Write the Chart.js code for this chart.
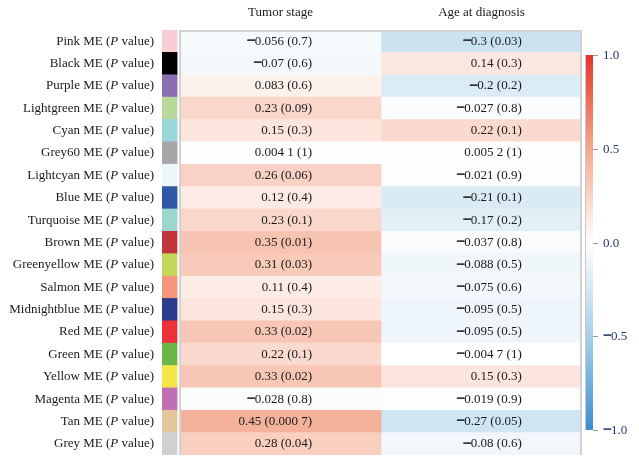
<!DOCTYPE html>
<html><head><meta charset="utf-8">
<script src="https://cdn.jsdelivr.net/npm/chart.js@4"></script>
<style>html,body{margin:0;padding:0;background:#fff}</style>
</head><body>
<canvas id="c" width="639" height="462" style="width:639px;height:462px;display:block"></canvas>
<script>
const modules = ['Pink','Black','Purple','Lightgreen','Cyan','Grey60','Lightcyan','Blue','Turquoise','Brown','Greenyellow','Salmon','Midnightblue','Red','Green','Yellow','Magenta','Tan','Grey'];
const moduleColors = ['#f8cdd3','#000000','#8b6db3','#b8d99b','#99d7d9','#a6a6a6','#edf6f8','#2f58a6','#9cd6cc','#c1353b','#c3d85a','#f5957e','#2c3a8e','#ec3139','#6bb84a','#f3e649','#c06fb4','#e4c59c','#d0d0d0'];
const columns = ['Tumor stage','Age at diagnosis'];
const tumorR = [-0.056,-0.07,0.083,0.23,0.15,0.0041,0.26,0.12,0.23,0.35,0.31,0.11,0.15,0.33,0.22,0.33,-0.028,0.45,0.28];
const tumorText = ['−0.056 (0.7)','−0.07 (0.6)','0.083 (0.6)','0.23 (0.09)','0.15 (0.3)','0.004 1 (1)','0.26 (0.06)','0.12 (0.4)','0.23 (0.1)','0.35 (0.01)','0.31 (0.03)','0.11 (0.4)','0.15 (0.3)','0.33 (0.02)','0.22 (0.1)','0.33 (0.02)','−0.028 (0.8)','0.45 (0.000 7)','0.28 (0.04)'];
const ageR = [-0.3,0.14,-0.2,-0.027,0.22,0.0052,-0.021,-0.21,-0.17,-0.037,-0.088,-0.075,-0.095,-0.095,-0.0047,0.15,-0.019,-0.27,-0.08];
const ageText = ['−0.3 (0.03)','0.14 (0.3)','−0.2 (0.2)','−0.027 (0.8)','0.22 (0.1)','0.005 2 (1)','−0.021 (0.9)','−0.21 (0.1)','−0.17 (0.2)','−0.037 (0.8)','−0.088 (0.5)','−0.075 (0.6)','−0.095 (0.5)','−0.095 (0.5)','−0.004 7 (1)','0.15 (0.3)','−0.019 (0.9)','−0.27 (0.05)','−0.08 (0.6)'];
const colorbarTicks = [-1,-0.5,0,0.5,1];
const colorbarTickLabels = ['−1.0','−0.5','0.0','0.5','1.0'];

// colour map stops (style)
const cmap = [[-1,[61,141,208]],[-0.5,[168,207,232]],[0,[255,255,255]],[0.5,[244,169,143]],[1,[228,53,42]]];
function colorFor(v){
  v=Math.max(-1,Math.min(1,v));
  for(let i=0;i<cmap.length-1;i++){
    const [a,ca]=cmap[i],[b,cb]=cmap[i+1];
    if(v>=a&&v<=b){const t=(v-a)/(b-a);
      const c=ca.map((x,k)=>Math.round(x+(cb[k]-x)*t));
      return `rgb(${c[0]},${c[1]},${c[2]})`;}
  }
  return '#fff';
}
const SERIF='"Liberation Serif","Times New Roman",serif';
const TXT='#1a1a1a';
const textRightInCell=[0.657,0.70];
const swatchRange=[-0.09,-0.015];

function drawMinus(ctx,x,yy,align){
  ctx.save();
  ctx.font='bold 15px '+SERIF; ctx.textAlign=align;
  ctx.strokeStyle=ctx.fillStyle; ctx.lineWidth=0.6;
  ctx.fillText('−',x,yy); ctx.strokeText('−',x,yy);
  const w=ctx.measureText('−').width;
  ctx.restore();
  return w;
}
function drawSigned(ctx,s,rx,yy,size){
  ctx.textAlign='right'; ctx.font=size+'px '+SERIF;
  let rest=s, neg=false;
  if(s.startsWith('−')){neg=true;rest=s.slice(1);}
  ctx.fillText(rest,rx,yy);
  if(neg){
    const w=ctx.measureText(rest).width;
    drawMinus(ctx,rx-w+0.5,yy,'right');
  }
}
function drawSignedLeft(ctx,s,lx,yy,size){
  ctx.font=size+'px '+SERIF; ctx.textAlign='left';
  if(s.startsWith('−')){
    const w=drawMinus(ctx,lx,yy,'left');
    ctx.font=size+'px '+SERIF; ctx.textAlign='left'; ctx.fillText(s.slice(1),lx+w-0.5,yy);
  } else ctx.fillText(s,lx,yy);
}

const overlay={
  id:'overlay',
  afterDatasetsDraw(chart){
    const ctx=chart.ctx, x=chart.scales.x, y=chart.scales.y, cb=chart.scales.cb;
    ctx.save();
    ctx.strokeStyle='#d2d2d2'; ctx.lineWidth=2;
    const l=x.getPixelForValue(0), r=x.getPixelForValue(2), t=chart.chartArea.top, b=chart.chartArea.bottom;
    ctx.beginPath(); ctx.moveTo(l,b); ctx.lineTo(l,t+1); ctx.lineTo(r-1,t+1); ctx.lineTo(r-1,b); ctx.stroke();
    ctx.fillStyle=TXT; ctx.textBaseline='middle';
    const lab=x.getPixelForValue(swatchRange[0])-8;
    modules.forEach((m,i)=>{
      const yy=y.getPixelForValue(i);
      const p1=m+' ME (', p2='P', p3=' value)';
      ctx.font='13px '+SERIF; const w1=ctx.measureText(p1).width, w3=ctx.measureText(p3).width;
      ctx.font='italic 13px '+SERIF; const w2=ctx.measureText(p2).width;
      let sx=lab-(w1+w2+w3);
      ctx.textAlign='left';
      ctx.font='13px '+SERIF; ctx.fillText(p1,sx,yy);
      ctx.font='italic 13px '+SERIF; ctx.fillText(p2,sx+w1,yy);
      ctx.font='13px '+SERIF; ctx.fillText(p3,sx+w1+w2,yy);
    });
    [tumorText,ageText].forEach((arr,c)=>{
      const rx=x.getPixelForValue(c+textRightInCell[c]);
      arr.forEach((s,i)=>drawSigned(ctx,s,rx,y.getPixelForValue(i),13));
    });
    const top=cb.getPixelForValue(1), bot=cb.getPixelForValue(-1);
    const cx0=chart.chartArea.right+4, cw=7;
    const g=ctx.createLinearGradient(0,top,0,bot);
    cmap.slice().reverse().forEach(([v,c])=>g.addColorStop((1-v)/2,`rgb(${c[0]},${c[1]},${c[2]})`));
    ctx.fillStyle=g; ctx.fillRect(cx0,top,cw,bot-top);
    ctx.strokeStyle='#c8c8c8'; ctx.lineWidth=1;
    ctx.beginPath(); ctx.moveTo(cx0-0.5,top); ctx.lineTo(cx0-0.5,bot); ctx.stroke();
    ctx.textBaseline='middle';
    colorbarTicks.forEach((v,i)=>{
      const py=Math.round(cb.getPixelForValue(v))+0.5;
      ctx.strokeStyle='#999'; ctx.lineWidth=1;
      ctx.beginPath(); ctx.moveTo(cx0+cw,py); ctx.lineTo(cx0+cw+5,py); ctx.stroke();
      ctx.fillStyle='#27366b';
      drawSignedLeft(ctx,colorbarTickLabels[i],cx0+17,py,13);
    });
    ctx.restore();
  }
};

const cellData=(c)=>modules.map(()=>[c,c+1]);
new Chart(document.getElementById('c'),{
  type:'bar',
  data:{labels:modules,datasets:[
    {label:'module',data:modules.map(()=>swatchRange.slice()),backgroundColor:moduleColors,grouped:false,categoryPercentage:1,barPercentage:1,borderWidth:0},
    {label:columns[0],data:cellData(0),backgroundColor:tumorR.map(colorFor),grouped:false,categoryPercentage:1,barPercentage:1,borderWidth:0},
    {label:columns[1],data:cellData(1),backgroundColor:ageR.map(colorFor),grouped:false,categoryPercentage:1,barPercentage:1,borderWidth:0}
  ]},
  options:{
    indexAxis:'y',responsive:false,animation:false,devicePixelRatio:1,
    layout:{padding:{left:162,right:0,top:0,bottom:7}},
    plugins:{legend:{display:false},tooltip:{enabled:false}},
    scales:{
      x:{type:'linear',position:'top',min:-0.09,max:2,grid:{display:false,drawTicks:false},border:{display:false},
        afterBuildTicks:s=>{s.ticks=[{value:0.5},{value:1.5}];},
        afterFit:s=>{s.height=30;},
        ticks:{autoSkip:false,maxRotation:0,padding:10,color:TXT,font:{family:SERIF,size:13},callback:(v,i)=>columns[i]}},
      y:{type:'category',display:false,offset:true},
      cb:{type:'linear',position:'right',offset:false,bounds:'data',min:-425/375,max:425/375,grid:{display:false,drawTicks:false,offset:false},border:{display:false},
        afterFit:s=>{s.width=57;},
        ticks:{display:false}}
    }
  },
  plugins:[overlay]
});
</script>
</body></html>
